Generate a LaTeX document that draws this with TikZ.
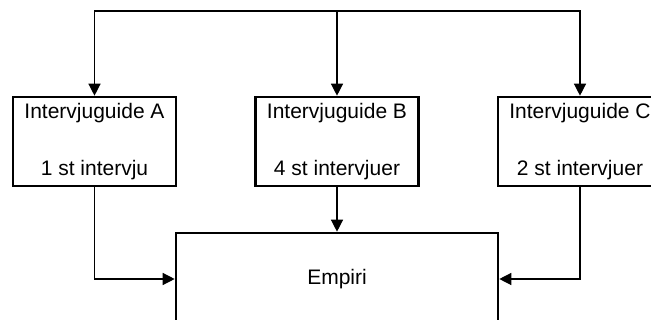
\documentclass[tikz,border=0pt]{standalone}
\usepackage{fontspec}
\setmainfont{Liberation Sans}
\usetikzlibrary{arrows.meta}
\begin{document}
\begin{tikzpicture}[x=1pt,y=-1pt,
  guidebox/.style={draw, line width=2.6pt, minimum width=163pt, minimum height=89pt,
    inner sep=0pt, align=center, font=\fontsize{21}{28.5}\selectfont},
  mainbox/.style={draw, line width=2.6pt, minimum width=322pt, minimum height=92pt,
    inner sep=0pt, font=\fontsize{21}{25}\selectfont},
  link/.style={line width=1.3pt, -{Triangle[length=12pt,width=12pt]}}]
  \useasboundingbox (0,0) rectangle (651,320);
  \clip (0,0) rectangle (651,320);
  \node[guidebox] (A) at (94.5,141.5) {Intervjuguide A\\[28.5pt]1 st intervju};
  \node[guidebox] (B) at (337,141.5) {Intervjuguide B\\[28.5pt]4 st intervjuer};
  \node[guidebox, minimum width=164pt] (C) at (580,141.5) {Intervjuguide C\\[28.5pt]2 st intervjuer};
  \node[mainbox] (E) at (337,279) {Empiri};
  \coordinate (t) at (337,11);
  % distribution line along the top
  \draw[link] (t) -| (A.north);
  \draw[link] (t) -| (C.north);
  \draw[link] (t) -- (B.north);
  % collection into the main box
  \draw[link] (A.south) |- (E.west);
  \draw[link] (B.south) -- (E.north);
  \draw[link] (C.south) |- (E.east);
\end{tikzpicture}
\end{document}
